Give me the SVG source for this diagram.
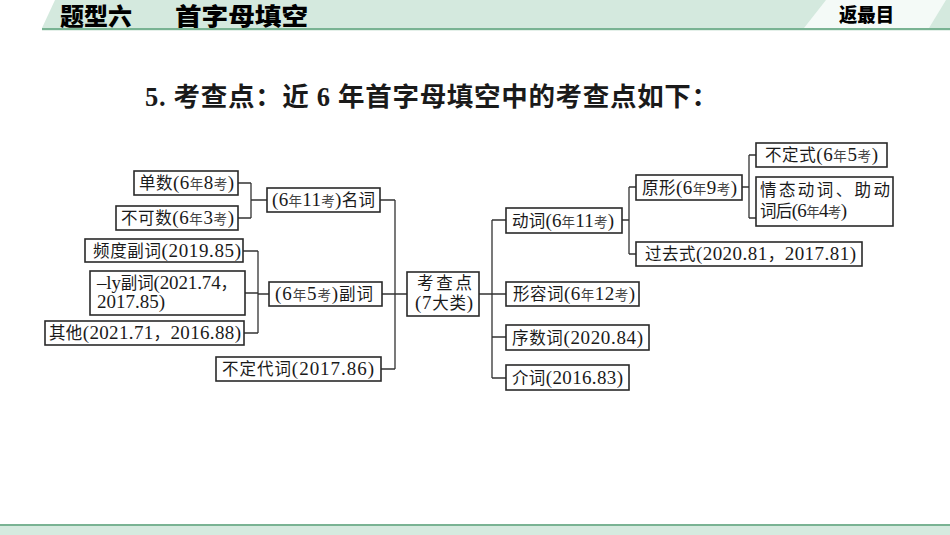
<svg xmlns="http://www.w3.org/2000/svg" width="950" height="535" viewBox="0 0 950 535">
<style>
text{font-family:"Liberation Serif","Noto Sans CJK SC",serif;fill:#1a1a1a;}
.t{font-size:19px;}
.c{font-size:16.5px;}
.s{font-size:13.5px;fill:#444;}
.box{fill:#fff;stroke:#2a2a2a;stroke-width:1.6;}
.con{fill:none;stroke:#333;stroke-width:1.3;}
.hd{font-family:"Noto Sans CJK SC",sans-serif;font-weight:900;fill:#000;}
</style>
<rect width="950" height="535" fill="#fff"/>
<!-- header -->
<polygon points="55,0 950,0 950,28 42,28" fill="#d4e9de"/>
<polygon points="826,0 946,0 929,28 804,28" fill="#f4faf7"/>
<rect x="42" y="28" width="908" height="2.2" fill="#79b393"/>
<text class="hd" x="60" y="25" font-size="24" textLength="72" lengthAdjust="spacingAndGlyphs">题型六</text>
<text class="hd" x="175" y="25" font-size="24" textLength="133" lengthAdjust="spacingAndGlyphs">首字母填空</text>
<text class="hd" x="839" y="22" font-size="19" textLength="55" lengthAdjust="spacingAndGlyphs">返最目</text>
<!-- footer -->
<rect x="0" y="524" width="950" height="2.2" fill="#79b393"/>
<rect x="0" y="526" width="950" height="9" fill="#d5eadf"/>
<!-- title -->
<text x="145" y="106" font-size="26.5" font-weight="bold" textLength="573" lengthAdjust="spacing">5. 考查点：近 6 年首字母填空中的考查点如下：</text>
<!-- connectors -->
<g id="connectors">
<path class="con" d="M238,183H251M238,218H251M251,183V218M251,200H267"/>
<path class="con" d="M243,251H258M245,293H258M244,333H258M258,251V333M258,294H269"/>
<path class="con" d="M380,200H395M382,294H395M381,369H395M395,200V369M395,294H407"/>
<path class="con" d="M479,294H492M492,220V378M492,220H506M492,294H506M492,337H506M492,378H506"/>
<path class="con" d="M622,220H629M629,187V254M629,187H636M629,254H636"/>
<path class="con" d="M742,187H749M749,155V218M749,155H756M749,218H756"/>
</g>
<!-- nodes -->
<g id="n_danshu"><rect class="box" x="134" y="171" width="104" height="24"/>
<text class="t" x="139" y="189" textLength="95" lengthAdjust="spacing"><tspan class="c">单数</tspan>(6<tspan class="s">年</tspan>8<tspan class="s">考</tspan>)</text></g>
<g id="n_bukeshu"><rect class="box" x="116" y="206" width="122" height="24"/>
<text class="t" x="121" y="224" textLength="113" lengthAdjust="spacing"><tspan class="c">不可数</tspan>(6<tspan class="s">年</tspan>3<tspan class="s">考</tspan>)</text></g>
<g id="n_mingci"><rect class="box" x="267" y="188" width="113" height="24"/>
<text class="t" x="272" y="206" textLength="103" lengthAdjust="spacing">(6<tspan class="s">年</tspan>11<tspan class="s">考</tspan>)<tspan class="c">名词</tspan></text></g>
<g id="n_pindu"><rect class="box" x="85" y="239" width="158" height="23"/>
<text class="t" x="93" y="256.5" textLength="148" lengthAdjust="spacing"><tspan class="c">频度副词</tspan>(2019.85)</text></g>
<g id="n_ly"><rect class="box" x="90" y="271" width="155" height="44"/>
<text class="t" x="97" y="288.5" textLength="140" lengthAdjust="spacing">–ly<tspan class="c">副词</tspan>(2021.74<tspan class="c">，</tspan></text>
<text class="t" x="97" y="308">2017.85)</text></g>
<g id="n_qita"><rect class="box" x="45" y="321" width="199" height="24"/>
<text class="t" x="49" y="339" textLength="192" lengthAdjust="spacing"><tspan class="c">其他</tspan>(2021.71<tspan class="c">，</tspan>2016.88)</text></g>
<g id="n_fuci"><rect class="box" x="269" y="282" width="113" height="24"/>
<text class="t" x="275" y="300" textLength="98" lengthAdjust="spacing">(6<tspan class="s">年</tspan>5<tspan class="s">考</tspan>)<tspan class="c">副词</tspan></text></g>
<g id="n_budingdaici"><rect class="box" x="216" y="357" width="165" height="24"/>
<text class="t" x="222" y="375" textLength="152" lengthAdjust="spacing"><tspan class="c">不定代词</tspan>(2017.86)</text></g>
<g id="n_root"><rect class="box" x="407" y="272" width="72" height="44"/>
<text class="t" x="417" y="289" textLength="55" lengthAdjust="spacing"><tspan class="c">考查点</tspan></text>
<text class="t" x="415" y="309" textLength="58" lengthAdjust="spacing">(7<tspan class="c">大类</tspan>)</text></g>
<g id="n_dongci"><rect class="box" x="506" y="208" width="116" height="25"/>
<text class="t" x="512" y="226.5" textLength="102" lengthAdjust="spacing"><tspan class="c">动词</tspan>(6<tspan class="s">年</tspan>11<tspan class="s">考</tspan>)</text></g>
<g id="n_yuanxing"><rect class="box" x="636" y="175" width="106" height="25"/>
<text class="t" x="642" y="193.5" textLength="95" lengthAdjust="spacing"><tspan class="c">原形</tspan>(6<tspan class="s">年</tspan>9<tspan class="s">考</tspan>)</text></g>
<g id="n_budingshi"><rect class="box" x="756" y="143" width="131" height="24"/>
<text class="t" x="765" y="161" textLength="113" lengthAdjust="spacing"><tspan class="c">不定式</tspan>(6<tspan class="s">年</tspan>5<tspan class="s">考</tspan>)</text></g>
<g id="n_qingtai"><rect class="box" x="756" y="177" width="137" height="49"/>
<text class="t" x="760" y="196" textLength="130" lengthAdjust="spacing"><tspan class="c">情态动词、助动</tspan></text>
<text class="t" x="760" y="217" textLength="87" lengthAdjust="spacing"><tspan class="c">词后</tspan>(6<tspan class="s">年</tspan>4<tspan class="s">考</tspan>)</text></g>
<g id="n_guoqu"><rect class="box" x="636" y="242" width="226" height="24"/>
<text class="t" x="645" y="260" textLength="211" lengthAdjust="spacing"><tspan class="c">过去式</tspan>(2020.81<tspan class="c">，</tspan>2017.81)</text></g>
<g id="n_xingrong"><rect class="box" x="506" y="282" width="133" height="24"/>
<text class="t" x="513" y="300" textLength="122" lengthAdjust="spacing"><tspan class="c">形容词</tspan>(6<tspan class="s">年</tspan>12<tspan class="s">考</tspan>)</text></g>
<g id="n_xushu"><rect class="box" x="506" y="325" width="143" height="25"/>
<text class="t" x="512" y="343.5" textLength="131" lengthAdjust="spacing"><tspan class="c">序数词</tspan>(2020.84)</text></g>
<g id="n_jieci"><rect class="box" x="506" y="365" width="123" height="25"/>
<text class="t" x="512" y="383.5" textLength="111" lengthAdjust="spacing"><tspan class="c">介词</tspan>(2016.83)</text></g>
</svg>
